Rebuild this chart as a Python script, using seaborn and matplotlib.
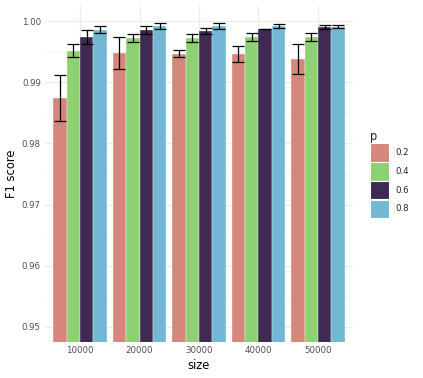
import matplotlib
matplotlib.use("Agg")
import matplotlib.pyplot as plt
from matplotlib.patches import Patch
from matplotlib.ticker import MultipleLocator
import seaborn as sns
import pandas as pd

sizes = ["10000", "20000", "30000", "40000", "50000"]
ps = ["0.2", "0.4", "0.6", "0.8"]

# mean F1 per size, one list per p
f1_p02 = [0.98745, 0.99485, 0.99470, 0.99465, 0.99378]
f1_p04 = [0.99515, 0.99728, 0.99730, 0.99742, 0.99742]
f1_p06 = [0.99742, 0.99858, 0.99838, 0.99872, 0.99902]
f1_p08 = [0.99865, 0.99920, 0.99922, 0.99922, 0.99912]

# half-width of error bars
err_p02 = [0.00375, 0.00262, 0.00062, 0.00138, 0.00248]
err_p04 = [0.00108, 0.00062, 0.00062, 0.00060, 0.00060]
err_p06 = [0.00120, 0.00070, 0.00048, 0.00005, 0.00030]
err_p08 = [0.00065, 0.00048, 0.00048, 0.00032, 0.00022]

colors = ["#D4877A", "#8ED173", "#3E2A53", "#72B8D4"]

means = [f1_p02, f1_p04, f1_p06, f1_p08]
errs = [err_p02, err_p04, err_p06, err_p08]
rows = []
for p, m, e in zip(ps, means, errs):
    for s, mv, ev in zip(sizes, m, e):
        rows.append({"size": s, "p": p, "f1": mv, "err": ev})
df = pd.DataFrame(rows)

sns.set_style("white")
fig = plt.figure(figsize=(4.23, 3.78), dpi=100)
ax = fig.add_axes([45/423, 1 - 342/378, (353 - 45)/423, (342 - 6)/378])

sns.barplot(data=df, x="size", y="f1", hue="p", order=sizes, hue_order=ps,
            palette=colors, width=0.9, errorbar=None, saturation=1,
            edgecolor="white", linewidth=0.25, legend=False, ax=ax, zorder=2)

# error bars on each bar, read from the patches seaborn drew
bars = [b for b in ax.patches]
for i, p in enumerate(ps):
    for j, s in enumerate(sizes):
        b = bars[i * len(sizes) + j]
        cx = b.get_x() + b.get_width() / 2
        row = df[(df["p"] == p) & (df["size"] == s)].iloc[0]
        ax.errorbar(cx, row["f1"], yerr=row["err"], fmt="none", ecolor="black",
                    elinewidth=0.9, capsize=4.6, capthick=0.9, zorder=3)

ax.set_ylim(0.9475, 1.0025)
ax.set_xlim(-0.59, 4.59)
ax.yaxis.set_major_locator(MultipleLocator(0.01))
ax.yaxis.set_minor_locator(MultipleLocator(0.005))
ax.set_yticks([0.95, 0.96, 0.97, 0.98, 0.99, 1.00])
ax.set_yticklabels(["0.95", "0.96", "0.97", "0.98", "0.99", "1.00"])
ax.grid(True, which="major", color="#EBEBEB", linewidth=0.9, zorder=0)
ax.grid(True, which="minor", axis="y", color="#F2F2F2", linewidth=0.5, zorder=0)
ax.set_axisbelow(True)
for sp in ax.spines.values():
    sp.set_visible(False)
ax.tick_params(axis="both", which="both", length=0, labelsize=6.2,
               labelcolor="#4D4D4D", pad=3)
ax.set_xlabel("size", fontsize=8.3, color="black", labelpad=3)
ax.set_ylabel("F1 score", fontsize=8.3, color="black", labelpad=3)

handles = [Patch(facecolor=c, edgecolor="white", linewidth=0.8) for c in colors]
leg = fig.legend(handles, ps, title="p", loc="upper left",
                 bbox_to_anchor=(370/423, 1 - 130/378), frameon=False,
                 fontsize=6.2, title_fontsize=8.3, handlelength=2.15,
                 handleheight=2.9, labelspacing=0.05, handletextpad=0.8,
                 borderaxespad=0, borderpad=0)
leg._legend_box.align = "left"

fig.savefig("out.png", dpi=100)
